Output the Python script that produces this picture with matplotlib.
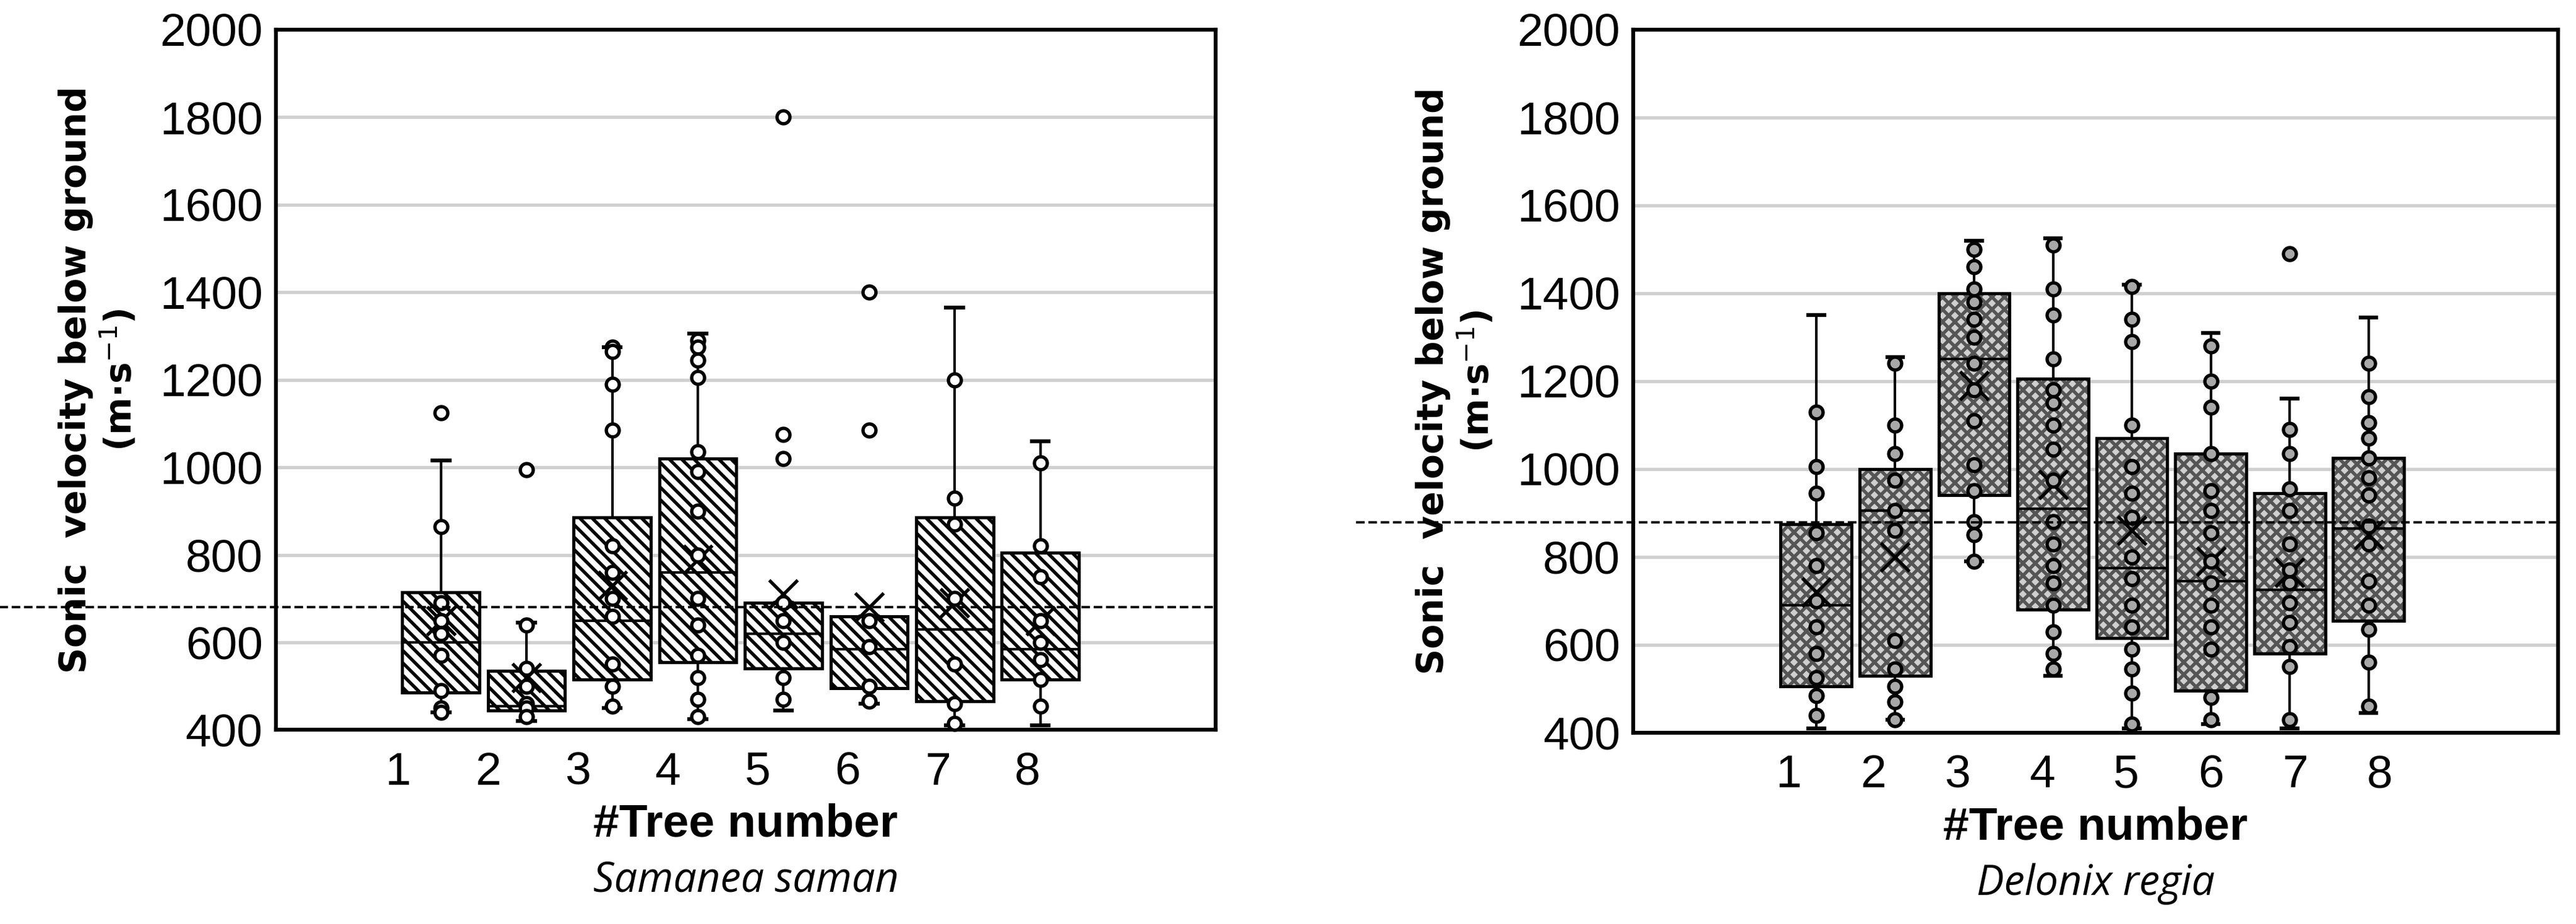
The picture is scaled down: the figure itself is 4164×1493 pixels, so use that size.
import numpy as np
import matplotlib
matplotlib.use('Agg')
import matplotlib.pyplot as plt
from matplotlib.patches import PathPatch

plt.rcParams['font.family'] = ['Liberation Sans Narrow', 'Liberation Sans', 'DejaVu Sans']
plt.rcParams['hatch.linewidth'] = 1.3

trees = ['1', '2', '3', '4', '5', '6', '7', '8']

# Samanea saman
ss_q1 = [485, 445, 515, 555, 540, 495, 465, 515]
ss_med = [600, 455, 650, 760, 620, 585, 630, 585]
ss_q3 = [715, 535, 885, 1020, 690, 660, 885, 805]
ss_lo = [440, 420, 450, 425, 445, 460, 410, 410]
ss_hi = [1015, 645, 1275, 1305, 690, 660, 1365, 1060]
ss_mean = [650, 520, 730, 790, 710, 680, 690, 650]
ss_out = [[1125], [995], [], [], [1800, 1075, 1020], [1400, 1085], [], []]
ss_pts = [
    [865, 690, 650, 620, 570, 490, 450, 440],
    [640, 540, 500, 460, 450, 430],
    [1275, 1265, 1190, 1085, 820, 760, 700, 660, 550, 500, 455],
    [1290, 1275, 1245, 1205, 1035, 990, 900, 800, 700, 640, 570, 520, 470, 430],
    [690, 650, 600, 520, 470],
    [650, 590, 500, 465],
    [1200, 930, 870, 700, 550, 460, 415],
    [1010, 820, 750, 650, 600, 560, 515, 455],
]
ss_ref = 680

# Delonix regia
dr_q1 = [505, 530, 940, 680, 615, 495, 580, 655]
dr_med = [690, 905, 1250, 910, 775, 745, 725, 865]
dr_q3 = [875, 1000, 1400, 1205, 1070, 1035, 945, 1025]
dr_lo = [410, 430, 790, 530, 410, 420, 410, 445]
dr_hi = [1350, 1255, 1520, 1525, 1420, 1310, 1160, 1345]
dr_mean = [720, 800, 1190, 965, 860, 790, 765, 850]
dr_out = [[], [], [], [], [], [], [1490], []]
dr_pts = [
    [1130, 1005, 945, 855, 780, 700, 640, 580, 525, 485, 440],
    [1240, 1100, 1035, 975, 905, 860, 610, 545, 505, 470, 430],
    [1500, 1460, 1410, 1380, 1340, 1300, 1240, 1180, 1110, 1010, 950, 880, 850, 790],
    [1510, 1410, 1350, 1250, 1180, 1150, 1100, 1045, 975, 880, 830, 780, 740, 690, 630, 580, 545],
    [1415, 1340, 1290, 1100, 1005, 945, 890, 800, 750, 690, 640, 590, 545, 490, 420],
    [1280, 1200, 1140, 1035, 950, 905, 855, 790, 740, 690, 640, 590, 480, 430],
    [1090, 1035, 955, 905, 830, 770, 740, 695, 650, 595, 550, 430],
    [1240, 1165, 1105, 1070, 1025, 980, 940, 870, 830, 745, 690, 635, 560, 460],
]
dr_ref = 878

fig = plt.figure(figsize=(13.88, 4.977), dpi=300)
ax1 = fig.add_axes([0.107, 0.21, 0.365, 0.758])
ax2 = fig.add_axes([0.634, 0.207, 0.359, 0.761])


def draw(ax, q1, med, q3, lo, hi, mean, out, pts, ref, face, hatch, hatchcol, ptface,
         xlim, lab_off, lab_step, species):
    pos = np.arange(1, len(trees) + 1)
    stats = []
    for i in range(len(trees)):
        stats.append(dict(q1=q1[i], med=med[i], q3=q3[i], whislo=lo[i], whishi=hi[i],
                          mean=mean[i], fliers=[]))
    ax.yaxis.grid(True, color='#d0d0d0', lw=1.3, zorder=0)
    ax.set_axisbelow(True)
    bp = ax.bxp(stats, positions=pos, widths=0.9, patch_artist=True, showmeans=True,
                showfliers=False,
                boxprops=dict(facecolor=face, edgecolor=hatchcol, lw=1.0, hatch=hatch),
                medianprops=dict(color='black', lw=1.0),
                whiskerprops=dict(color='black', lw=1.0),
                capprops=dict(color='black', lw=1.5),
                meanprops=dict(marker='x', markeredgecolor='black', markersize=11,
                               markeredgewidth=1.3))
    for b in bp['boxes']:
        ax.add_patch(PathPatch(b.get_path(), fill=False, ec='black', lw=1.2, zorder=3))
    for c in bp['caps']:
        m = c.get_xdata().mean()
        c.set_xdata([m - 0.1, m + 0.1])
    for i in range(len(trees)):
        p = pts[i] + out[i]
        ax.plot([pos[i]] * len(p), p, 'o', ms=5, mfc=ptface, mec='black', mew=1.3,
                zorder=5, clip_on=False)
    ax.plot([-0.3, 1.0], [ref, ref], transform=ax.get_yaxis_transform(), ls='--',
            color='black', lw=0.9, clip_on=False, zorder=6)
    ax.set_xlim(*xlim)
    ax.set_ylim(400, 2000)
    ax.set_yticks(np.arange(400, 2001, 200))
    ax.set_xticks([])
    for i, t in enumerate(trees):
        ax.text(pos[i] + lab_off + lab_step * i, -0.03, t, transform=ax.get_xaxis_transform(),
                ha='center', va='top', fontsize=18)
    ax.tick_params(axis='y', length=0, labelsize=18, pad=5)
    for s in ax.spines.values():
        s.set_linewidth(1.5)
    ax.set_ylabel('Sonic  velocity below ground\n(m·s$^{-1}$)', fontsize=14,
                  fontweight='bold', family='DejaVu Sans', labelpad=8)
    ax.text(0.5, -0.135, '#Tree number', transform=ax.transAxes, ha='center', va='center',
            fontsize=18, fontweight='bold')
    ax.text(0.5, -0.215, species, transform=ax.transAxes, ha='center', va='center',
            fontsize=16, style='italic', family='Open Sans')


draw(ax1, ss_q1, ss_med, ss_q3, ss_lo, ss_hi, ss_mean, ss_out, ss_pts, ss_ref,
     'white', '\\\\\\\\\\', 'black', 'white', (-0.93, 10.05), -0.5, 0.05, 'Samanea saman')
draw(ax2, dr_q1, dr_med, dr_q3, dr_lo, dr_hi, dr_mean, dr_out, dr_pts, dr_ref,
     '#cfcfcf', 'xxxxx', '#555555', '#a8a8a8', (-1.32, 10.4), -0.35, 0.07, 'Delonix regia')

fig.savefig('out.png', dpi=300)
